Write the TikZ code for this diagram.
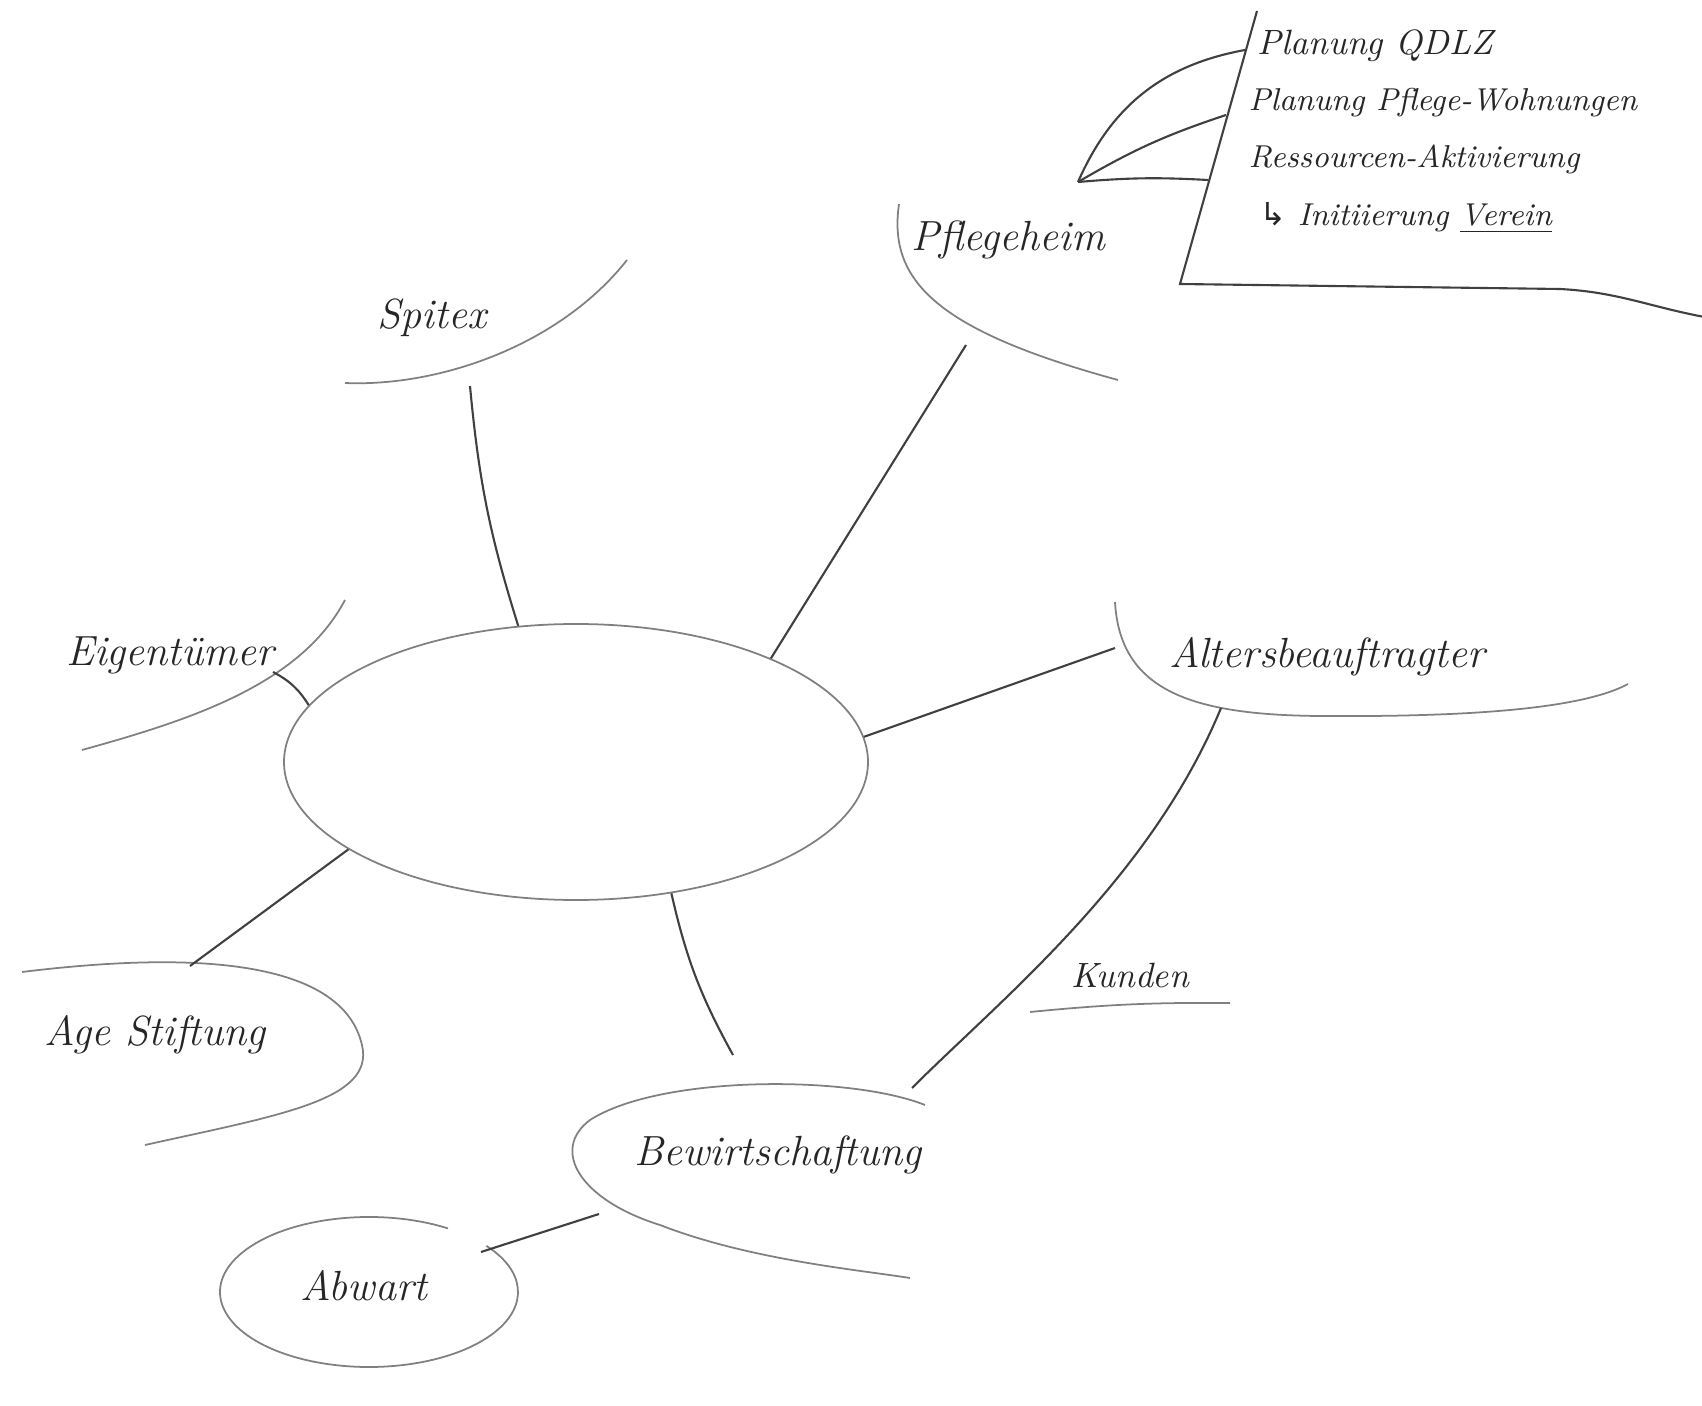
\documentclass[tikz,border=0pt]{standalone}
\usepackage{fontspec}
\usepackage{tikz}
\usetikzlibrary{positioning}
\usetikzlibrary{shapes.geometric}
\newfontfamily\arrowfont{DejaVu Sans}
\tikzset{lbl/.style = {font = \large\itshape, text = black!85, inner sep = 1pt}}
\tikzset{note/.style = {font = \small\itshape, anchor = west, text = black!85, inner sep = 0}}
\tikzset{rim/.style = {draw = black!50, line width = 0.5pt}}
\tikzset{link/.style = {draw = black!75, line width = 0.6pt}}

\begin{document}
\begin{tikzpicture}
    \useasboundingbox (0, 0) rectangle (17.02, -14.06);
    \node (centre) at (5.76, -7.62) [ellipse, rim, minimum width = 5.84cm, minimum height = 2.76cm, inner sep = 0] {};

    \node (spitex) at (4.32, -3.18) [lbl] {Spitex};
    \draw [rim] (3.45, -3.83) .. controls (4.4, -3.87) and (5.6, -3.45) .. (6.27, -2.60);
    \coordinate (spitexfoot) at (4.70, -3.86);
    \draw [link] (spitexfoot) to [bend right = 6] (centre.113);

    \node (heim) at (10.08, -2.40) [lbl] {Pflegeheim};
    \draw [rim] (8.99, -2.04) .. controls (8.88, -2.8) and (9.35, -3.3) .. (11.18, -3.80);
    \coordinate (heimfoot) at (9.66, -3.45);
    \draw [link] (heimfoot) -- (centre.28);

    \coordinate (fork) at (10.78, -1.82);
    \coordinate (bartop) at (12.57, -0.11);
    \coordinate (barfoot) at (11.80, -2.84);
    \draw [link] (bartop) -- (barfoot) -- (15.6, -2.89) to [out = -3, in = 170] (17.10, -3.18);
    \coordinate (endA) at (12.45, -0.50);
    \coordinate (endB) at (12.26, -1.15);
    \coordinate (endC) at (12.08, -1.80);
    \draw [link] (fork) to [bend left = 28] (endA);
    \draw [link] (fork) to [bend left = 6] (endB);
    \draw [link] (fork) to [bend left = 4] (endC);
    \node (qdlz) at (12.57, -0.46) [note, font = \itshape] {Planung QDLZ};
    \node (wohn) at (12.48, -1.03) [note] {Planung Pflege-Wohnungen};
    \node (akti) at (12.48, -1.59) [note] {Ressourcen-Aktivierung};
    \node (verein) at (12.59, -2.18) [note] {{\arrowfont ↳} Initiierung \underline{Verein}};

    \node (alters) at (13.27, -6.57) [lbl] {Altersbeauftragter};
    \draw [rim] (11.15, -6.02) .. controls (11.2, -6.9) and (11.9, -7.15) .. (13.2, -7.16)
                .. controls (14.6, -7.17) and (15.8, -7.1) .. (16.28, -6.84);
    \coordinate (altersside) at (11.15, -6.48);
    \draw [link] (centre.5) -- (altersside);

    \node (eigen) at (1.70, -6.55) [lbl] {Eigentümer};
    \draw [rim] (0.82, -7.50) .. controls (1.9, -7.2) and (3.0, -6.85) .. (3.45, -6.0);
    \coordinate (eigenfoot) at (2.73, -6.72);
    \draw [link] (eigenfoot) to [bend left = 15] (centre.168);

    \node (age) at (1.55, -10.35) [lbl] {Age Stiftung};
    \draw [rim] (0.22, -9.72) .. controls (1.6, -9.55) and (3.4, -9.5) .. (3.62, -10.45)
                .. controls (3.75, -11.0) and (2.8, -11.15) .. (1.45, -11.45);
    \coordinate (agetop) at (1.90, -9.66);
    \draw [link] (agetop) -- (centre.201);

    \node (bewirt) at (7.78, -11.55) [lbl] {Bewirtschaftung};
    \draw [rim] (9.25, -11.05) .. controls (8.5, -10.75) and (6.6, -10.75) .. (5.9, -11.2)
                .. controls (5.5, -11.5) and (5.8, -12.0) .. (6.6, -12.25)
                .. controls (7.5, -12.6) and (8.6, -12.7) .. (9.1, -12.78);
    \coordinate (bewirttop) at (7.33, -10.55);
    \draw [link] (centre.-54) to [bend right = 8] (bewirttop);

    \coordinate (altersfoot) at (12.21, -7.08);
    \coordinate (bewirtcorner) at (9.12, -10.88);
    \draw [link] (altersfoot) .. controls (11.5, -8.8) and (10.0, -10.0) .. (bewirtcorner);
    \node (kunden) at (11.30, -9.75) [lbl, font = \itshape] {Kunden};
    \draw [rim] (10.30, -10.12) to [bend left = 3] (12.30, -10.03);

    \node (abwart) at (3.64, -12.86) [lbl] {Abwart};
    \draw [rim] (3.69, -12.92) ++(58:1.49 and 0.75) arc [start angle = 58, end angle = 398, x radius = 1.49, y radius = 0.75];
    \coordinate (abwartside) at (4.81, -12.52);
    \coordinate (bewirtside) at (5.99, -12.14);
    \draw [link] (abwartside) -- (bewirtside);
\end{tikzpicture}
\end{document}
